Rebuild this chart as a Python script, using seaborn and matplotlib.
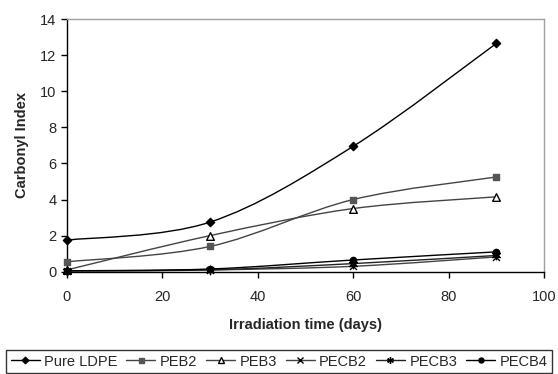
import numpy as np
import pandas as pd
import matplotlib
matplotlib.use("Agg")
import matplotlib.pyplot as plt
from matplotlib.path import Path
from matplotlib.patches import PathPatch
from matplotlib.lines import Line2D
import seaborn as sns

days = [0, 30, 60, 90]
pure_ldpe = [1.75, 2.75, 6.95, 12.65]
peb2 = [0.55, 1.4, 4.0, 5.25]
peb3 = [0.1, 2.0, 3.5, 4.15]
pecb2 = [0.05, 0.1, 0.3, 0.82]
pecb3 = [0.05, 0.1, 0.45, 0.9]
pecb4 = [0.05, 0.15, 0.65, 1.1]
series_names = ["Pure LDPE", "PEB2", "PEB3", "PECB2", "PECB3", "PECB4"]
x_ticks = [0, 20, 40, 60, 80, 100]
y_ticks = [0, 2, 4, 6, 8, 10, 12, 14]

series_vals = [pure_ldpe, peb2, peb3, pecb2, pecb3, pecb4]
df = pd.DataFrame({
    "days": days * len(series_names),
    "ci": sum(series_vals, []),
    "series": np.repeat(series_names, len(days)),
})

sns.set_style("ticks")
plt.rcParams["font.family"] = ["Liberation Sans", "DejaVu Sans"]

styles = {
    "Pure LDPE": dict(marker="D", color="black", mfc="black", ms=4.2, lc="black"),
    "PEB2": dict(marker="s", color="#555555", mfc="#555555", ms=4.5, lc="#444444"),
    "PEB3": dict(marker="^", color="black", mfc="white", ms=5.5, lc="#444444"),
    "PECB2": dict(marker="x", color="black", mfc="black", ms=5, lc="#444444"),
    "PECB3": dict(marker=(6, 2, 0), color="black", mfc="black", ms=6, lc="#222222"),
    "PECB4": dict(marker="o", color="black", mfc="black", ms=4.5, lc="black"),
}

fig = plt.figure(figsize=(5.58, 3.74), dpi=100)
ax = fig.add_axes([0.120, 0.2735, 0.855, 0.6755])


def smooth_path(xs, ys, t=1/6):
    # Catmull-Rom style Bezier smoothing (Excel smoothed line)
    xs = np.asarray(xs, float); ys = np.asarray(ys, float)
    n = len(xs)
    verts = [(xs[0], ys[0])]
    codes = [Path.MOVETO]
    for i in range(n - 1):
        p0 = np.array([xs[max(i - 1, 0)], ys[max(i - 1, 0)]])
        p1 = np.array([xs[i], ys[i]])
        p2 = np.array([xs[i + 1], ys[i + 1]])
        p3 = np.array([xs[min(i + 2, n - 1)], ys[min(i + 2, n - 1)]])
        c1 = p1 + (p2 - p0) * t
        c2 = p2 - (p3 - p1) * t
        verts += [tuple(c1), tuple(c2), tuple(p2)]
        codes += [Path.CURVE4] * 3
    return Path(verts, codes)


for name in series_names:
    st = styles[name]
    sub = df[df.series == name]
    patch = PathPatch(smooth_path(sub.days, sub.ci), fill=False,
                      edgecolor=st["lc"], lw=1.0, zorder=2)
    ax.add_patch(patch)
    sns.scatterplot(data=sub, x="days", y="ci", ax=ax, marker=st["marker"],
                    s=st["ms"] ** 2, color=st["mfc"], edgecolor=st["color"],
                    linewidth=1.0, zorder=3, legend=False, clip_on=False)

ax.set_xlim(0, 100)
ax.set_ylim(0, 14)
ax.set_xticks(x_ticks)
ax.set_yticks(y_ticks)
ax.tick_params(axis="both", labelsize=10.5, direction="out", length=4, width=1, color="black")
ax.tick_params(axis="x", pad=9)
ax.set_xlabel("Irradiation time (days)", fontsize=10.5, fontweight="bold", labelpad=10)
ax.set_ylabel("Carbonyl Index", fontsize=10.5, fontweight="bold", labelpad=8)
for s in ["left", "bottom"]:
    ax.spines[s].set_color("black")
    ax.spines[s].set_linewidth(1)
for s in ["top", "right"]:
    ax.spines[s].set_visible(True)
    ax.spines[s].set_color("#a0a0a0")
    ax.spines[s].set_linewidth(1)

handles = []
for name in series_names:
    st = styles[name]
    handles.append(Line2D([0], [0], color=st["lc"], lw=1.0, marker=st["marker"],
                          markersize=st["ms"] * 0.8, markerfacecolor=st["mfc"],
                          markeredgecolor=st["color"], label=name))
leg = fig.legend(handles=handles, loc="lower center", bbox_to_anchor=(0.5, 0.003),
                 ncol=6, fontsize=10.5, frameon=True, fancybox=False,
                 handlelength=2.0, handletextpad=0.3, columnspacing=0.6,
                 borderpad=0.3, borderaxespad=0.0, edgecolor="black")
leg.get_frame().set_linewidth(1)

fig.savefig("out.png", dpi=100)
